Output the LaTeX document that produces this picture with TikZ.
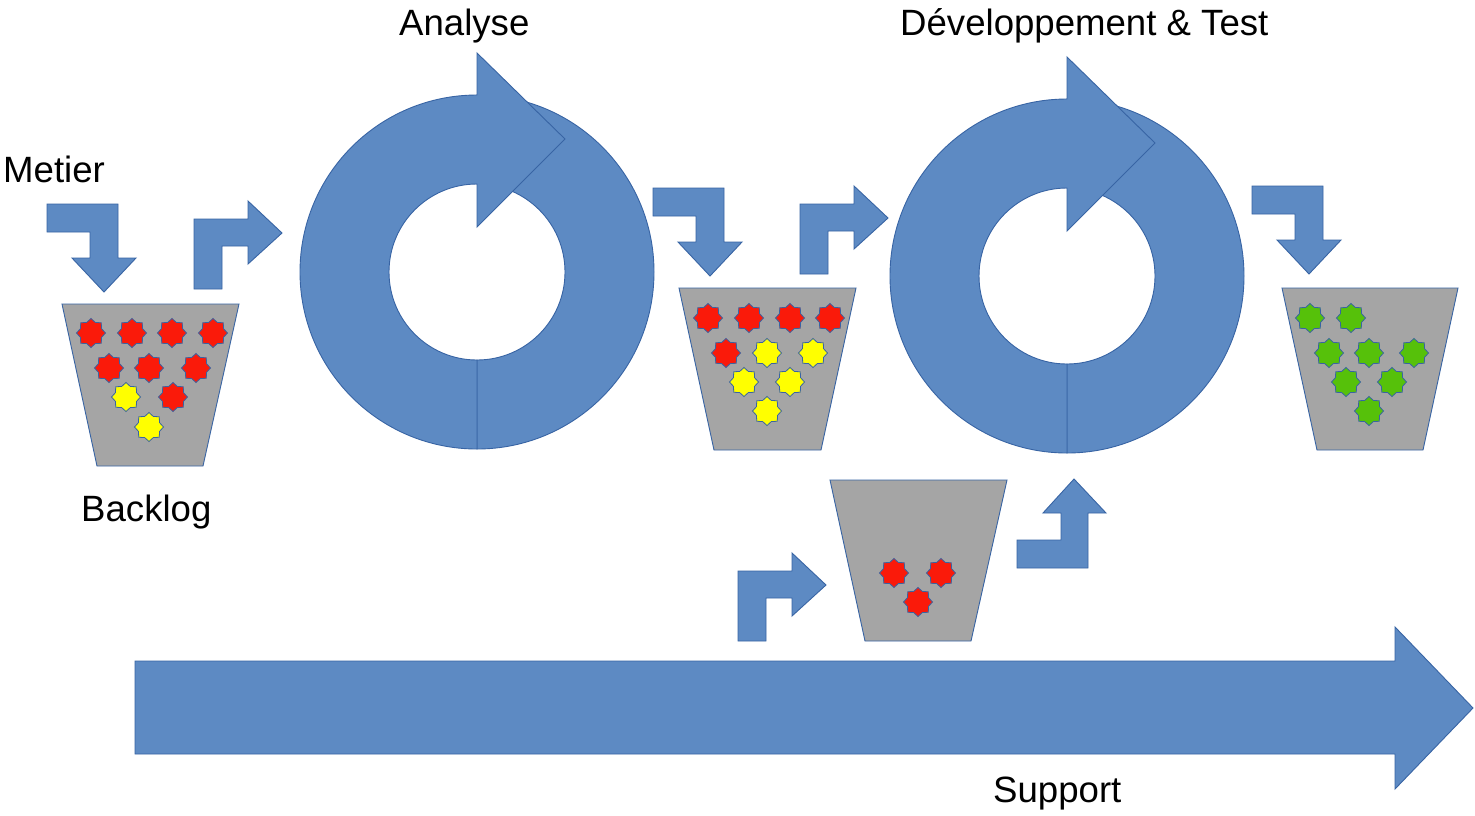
\documentclass[tikz,border=0pt]{standalone}
\usepackage{fontspec}
\setmainfont{Liberation Sans}
\usetikzlibrary{shapes.geometric}
\definecolor{arrfill}{RGB}{93,138,195}
\definecolor{arrline}{RGB}{56,100,164}
\definecolor{bucketgray}{RGB}{165,165,165}
\definecolor{sred}{RGB}{250,26,10}
\definecolor{syellow}{RGB}{255,255,0}
\definecolor{sgreen}{RGB}{86,193,10}
\tikzset{
  arr/.style={fill=arrfill, draw=arrline, line width=0.9pt, line join=miter},
  bucket/.style={fill=bucketgray, draw=arrline, line width=0.9pt},
  kstar/.style={star, star points=8, star point ratio=1.27, minimum size=29pt, inner sep=0pt, draw=arrline, line width=0.8pt},
  red/.style={kstar, fill=sred},
  yel/.style={kstar, fill=syellow},
  grn/.style={kstar, fill=sgreen},
  lbl/.style={font=\fontsize{36.6}{44}\selectfont, anchor=base west, inner sep=0pt, text=black},
  pics/downarrow/.style={code={\draw[arr] (0,0) -- (71,0) -- (71,54) -- (89,54) -- (57,88) -- (25,54) -- (43,54) -- (43,28) -- (0,28) -- cycle;}},
  pics/uparrow/.style={code={\draw[arr] (0,0) -- (0,-70) -- (54,-70) -- (54,-88) -- (88,-56) -- (54,-25) -- (54,-43) -- (28,-43) -- (28,0) -- cycle;}},
  pics/cyclearrow/.style={code={
    \draw[arr] (0,-177) arc[start angle=-90, end angle=90, radius=177] -- (0,88) arc[start angle=90, end angle=-90, radius=88] -- cycle;
    \draw[arr] (0,177) arc[start angle=90, end angle=270, radius=177] -- (0,-219) -- (88,-133) -- (0,-45) -- (0,-88) arc[start angle=270, end angle=90, radius=88] -- cycle;
  }}
}
\begin{document}
\begin{tikzpicture}[x=1pt,y=-1pt]
\useasboundingbox (0,0) rectangle (1475,815);
\fill[white] (0,0) rectangle (1475,815);

% labels
\node[lbl] (analyse) at (399,35) {Analyse};
\node[lbl] (dev) at (900,35) {Développement \& Test};
\node[lbl] (metier) at (3,182) {Metier};
\node[lbl] (backlog) at (81,521) {Backlog};
\node[lbl] (support) at (993,802) {Support};

% cycle arrows
\pic at (477,272) {cyclearrow};
\pic at (1067,276) {cyclearrow};

% bent arrows
\pic at (47,204) {downarrow};
\pic at (194,289) {uparrow};
\pic at (653,188) {downarrow};
\pic at (800,274) {uparrow};
\pic at (1252,186) {downarrow};
\pic at (738,641) {uparrow};
\draw[arr] (1017,568) -- (1017,540) -- (1061,540) -- (1061,513) -- (1043,513) -- (1074,479) -- (1106,513) -- (1088,513) -- (1088,568) -- cycle;

% support arrow
\draw[arr] (135,661) -- (1395,661) -- (1395,627) -- (1473,708) -- (1395,789) -- (1395,754) -- (135,754) -- cycle;

% buckets
\draw[bucket] (62,304) -- (239,304) -- (203,466) -- (97,466) -- cycle;
\draw[bucket] (679,288) -- (856,288) -- (821,450) -- (714,450) -- cycle;
\draw[bucket] (830,480) -- (1007,480) -- (971,641) -- (865,641) -- cycle;
\draw[bucket] (1282,288) -- (1458,288) -- (1423,450) -- (1317,450) -- cycle;

% stars bucket 1
\node[red] (a1) at (91,333) {};
\node[red] (a2) at (132,333) {};
\node[red] (a3) at (172,333) {};
\node[red] (a4) at (213,333) {};
\node[red] (a5) at (109,368) {};
\node[red] (a6) at (149,368) {};
\node[red] (a7) at (196,368) {};
\node[yel] (a8) at (126,397) {};
\node[red] (a9) at (173,397) {};
\node[yel] (a10) at (149,427) {};

% stars bucket 2
\node[red] (b1) at (708,318) {};
\node[red] (b2) at (749,318) {};
\node[red] (b3) at (790,318) {};
\node[red] (b4) at (830,318) {};
\node[red] (b5) at (726,353) {};
\node[yel] (b6) at (767,353) {};
\node[yel] (b7) at (813,353) {};
\node[yel] (b8) at (744,382) {};
\node[yel] (b9) at (790,382) {};
\node[yel] (b10) at (767,411) {};

% stars bucket 3
\node[red] (c1) at (894,573) {};
\node[red] (c2) at (941,573) {};
\node[red] (c3) at (918,602) {};

% stars bucket 4
\node[grn] (d1) at (1310,318) {};
\node[grn] (d2) at (1351,318) {};
\node[grn] (d3) at (1329,353) {};
\node[grn] (d4) at (1369,353) {};
\node[grn] (d5) at (1414,353) {};
\node[grn] (d6) at (1346,382) {};
\node[grn] (d7) at (1392,382) {};
\node[grn] (d8) at (1369,411) {};
\end{tikzpicture}
\end{document}
